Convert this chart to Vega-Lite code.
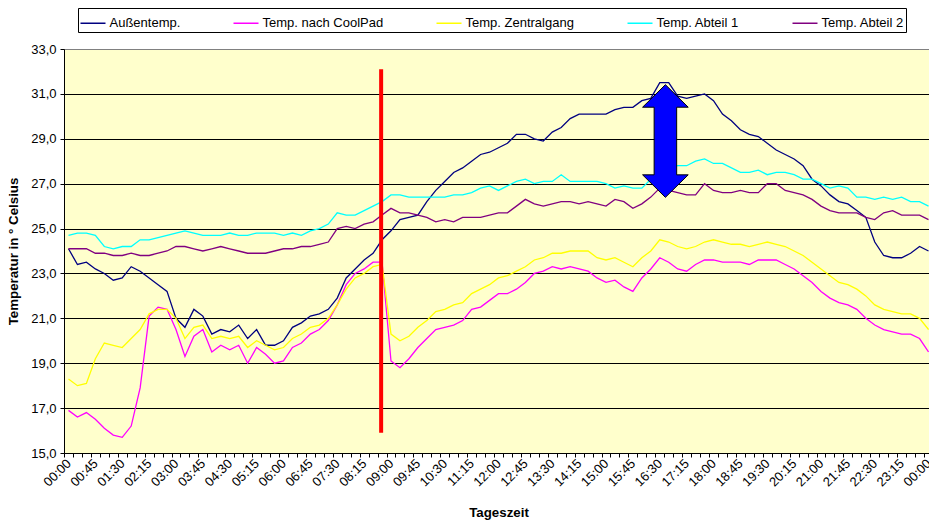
{
  "$schema": "https://vega.github.io/schema/vega-lite/v6.json",
  "autosize": {"type": "none"},
  "padding": {"left": 64, "top": 49, "right": 0, "bottom": 71},
  "width": 869,
  "height": 404,
  "background": "#FFFFFF",
  "config": {
    "font": "Liberation Sans",
    "view": {"fill": "#FFFFCC", "stroke": "#808080", "strokeWidth": 1}
  },
  "layer": [
    {
      "data": {"values": [
        {"t":"00:00","a":24.1,"c":16.9,"z":18.3,"b1":24.7,"b2":24.1},
        {"t":"00:15","a":23.4,"c":16.6,"z":18.0,"b1":24.8,"b2":24.1},
        {"t":"00:30","a":23.5,"c":16.8,"z":18.1,"b1":24.8,"b2":24.1},
        {"t":"00:45","a":23.2,"c":16.5,"z":19.2,"b1":24.7,"b2":23.9},
        {"t":"01:00","a":23.0,"c":16.1,"z":19.9,"b1":24.2,"b2":23.9},
        {"t":"01:15","a":22.7,"c":15.8,"z":19.8,"b1":24.1,"b2":23.8},
        {"t":"01:30","a":22.8,"c":15.7,"z":19.7,"b1":24.2,"b2":23.8},
        {"t":"01:45","a":23.3,"c":16.2,"z":20.1,"b1":24.2,"b2":23.9},
        {"t":"02:00","a":23.1,"c":17.9,"z":20.5,"b1":24.5,"b2":23.8},
        {"t":"02:15","a":22.8,"c":21.1,"z":21.2,"b1":24.5,"b2":23.8},
        {"t":"02:30","a":22.5,"c":21.5,"z":21.4,"b1":24.6,"b2":23.9},
        {"t":"02:45","a":22.2,"c":21.4,"z":21.4,"b1":24.7,"b2":24.0},
        {"t":"03:00","a":21.0,"c":20.5,"z":21.0,"b1":24.8,"b2":24.2},
        {"t":"03:15","a":20.6,"c":19.3,"z":20.1,"b1":24.9,"b2":24.2},
        {"t":"03:30","a":21.4,"c":20.2,"z":20.6,"b1":24.8,"b2":24.1},
        {"t":"03:45","a":21.1,"c":20.5,"z":20.7,"b1":24.7,"b2":24.0},
        {"t":"04:00","a":20.3,"c":19.5,"z":20.1,"b1":24.7,"b2":24.1},
        {"t":"04:15","a":20.5,"c":19.8,"z":20.2,"b1":24.7,"b2":24.2},
        {"t":"04:30","a":20.4,"c":19.6,"z":20.1,"b1":24.8,"b2":24.1},
        {"t":"04:45","a":20.7,"c":19.8,"z":20.2,"b1":24.7,"b2":24.0},
        {"t":"05:00","a":20.1,"c":19.0,"z":19.7,"b1":24.7,"b2":23.9},
        {"t":"05:15","a":20.5,"c":19.7,"z":20.0,"b1":24.8,"b2":23.9},
        {"t":"05:30","a":19.8,"c":19.4,"z":19.8,"b1":24.8,"b2":23.9},
        {"t":"05:45","a":19.8,"c":19.0,"z":19.6,"b1":24.8,"b2":24.0},
        {"t":"06:00","a":20.0,"c":19.1,"z":19.7,"b1":24.7,"b2":24.1},
        {"t":"06:15","a":20.6,"c":19.7,"z":20.1,"b1":24.8,"b2":24.1},
        {"t":"06:30","a":20.8,"c":19.9,"z":20.3,"b1":24.7,"b2":24.2},
        {"t":"06:45","a":21.1,"c":20.3,"z":20.6,"b1":24.9,"b2":24.2},
        {"t":"07:00","a":21.2,"c":20.5,"z":20.7,"b1":25.0,"b2":24.3},
        {"t":"07:15","a":21.4,"c":20.9,"z":21.0,"b1":25.2,"b2":24.4},
        {"t":"07:30","a":21.9,"c":21.6,"z":21.6,"b1":25.7,"b2":25.0},
        {"t":"07:45","a":22.8,"c":22.5,"z":22.3,"b1":25.6,"b2":25.1},
        {"t":"08:00","a":23.2,"c":23.0,"z":22.8,"b1":25.6,"b2":25.0},
        {"t":"08:15","a":23.6,"c":23.2,"z":23.0,"b1":25.8,"b2":25.2},
        {"t":"08:30","a":23.9,"c":23.5,"z":23.3,"b1":26.0,"b2":25.3},
        {"t":"08:45","a":24.5,"c":23.5,"z":23.4,"b1":26.2,"b2":25.6},
        {"t":"09:00","a":24.9,"c":19.1,"z":20.3,"b1":26.5,"b2":25.9},
        {"t":"09:15","a":25.4,"c":18.8,"z":20.0,"b1":26.5,"b2":25.7},
        {"t":"09:30","a":25.5,"c":19.2,"z":20.2,"b1":26.4,"b2":25.7},
        {"t":"09:45","a":25.6,"c":19.7,"z":20.6,"b1":26.4,"b2":25.6},
        {"t":"10:00","a":26.2,"c":20.1,"z":20.9,"b1":26.4,"b2":25.5},
        {"t":"10:15","a":26.7,"c":20.5,"z":21.3,"b1":26.4,"b2":25.3},
        {"t":"10:30","a":27.1,"c":20.6,"z":21.4,"b1":26.4,"b2":25.4},
        {"t":"10:45","a":27.5,"c":20.7,"z":21.6,"b1":26.5,"b2":25.3},
        {"t":"11:00","a":27.7,"c":20.9,"z":21.7,"b1":26.5,"b2":25.5},
        {"t":"11:15","a":28.0,"c":21.4,"z":22.1,"b1":26.6,"b2":25.5},
        {"t":"11:30","a":28.3,"c":21.5,"z":22.3,"b1":26.8,"b2":25.5},
        {"t":"11:45","a":28.4,"c":21.8,"z":22.5,"b1":26.9,"b2":25.6},
        {"t":"12:00","a":28.6,"c":22.1,"z":22.8,"b1":26.7,"b2":25.7},
        {"t":"12:15","a":28.8,"c":22.1,"z":22.9,"b1":26.9,"b2":25.7},
        {"t":"12:30","a":29.2,"c":22.3,"z":23.1,"b1":27.1,"b2":26.0},
        {"t":"12:45","a":29.2,"c":22.6,"z":23.3,"b1":27.2,"b2":26.3},
        {"t":"13:00","a":29.0,"c":23.0,"z":23.6,"b1":27.0,"b2":26.1},
        {"t":"13:15","a":28.9,"c":23.1,"z":23.7,"b1":27.1,"b2":26.0},
        {"t":"13:30","a":29.3,"c":23.3,"z":23.9,"b1":27.1,"b2":26.1},
        {"t":"13:45","a":29.5,"c":23.2,"z":23.9,"b1":27.4,"b2":26.2},
        {"t":"14:00","a":29.9,"c":23.3,"z":24.0,"b1":27.1,"b2":26.2},
        {"t":"14:15","a":30.1,"c":23.2,"z":24.0,"b1":27.1,"b2":26.1},
        {"t":"14:30","a":30.1,"c":23.1,"z":24.0,"b1":27.1,"b2":26.2},
        {"t":"14:45","a":30.1,"c":22.8,"z":23.7,"b1":27.1,"b2":26.1},
        {"t":"15:00","a":30.1,"c":22.6,"z":23.6,"b1":27.0,"b2":26.0},
        {"t":"15:15","a":30.3,"c":22.7,"z":23.7,"b1":26.8,"b2":26.3},
        {"t":"15:30","a":30.4,"c":22.4,"z":23.5,"b1":26.9,"b2":26.2},
        {"t":"15:45","a":30.4,"c":22.2,"z":23.3,"b1":26.8,"b2":25.9},
        {"t":"16:00","a":30.7,"c":22.8,"z":23.7,"b1":26.8,"b2":26.1},
        {"t":"16:15","a":30.8,"c":23.2,"z":24.0,"b1":27.2,"b2":26.4},
        {"t":"16:30","a":31.5,"c":23.7,"z":24.5,"b1":27.6,"b2":26.8},
        {"t":"16:45","a":31.5,"c":23.5,"z":24.4,"b1":27.7,"b2":26.7},
        {"t":"17:00","a":30.9,"c":23.2,"z":24.2,"b1":27.8,"b2":26.6},
        {"t":"17:15","a":30.8,"c":23.1,"z":24.1,"b1":27.8,"b2":26.5},
        {"t":"17:30","a":30.9,"c":23.4,"z":24.2,"b1":28.0,"b2":26.5},
        {"t":"17:45","a":31.0,"c":23.6,"z":24.4,"b1":28.1,"b2":27.0},
        {"t":"18:00","a":30.7,"c":23.6,"z":24.5,"b1":27.9,"b2":26.7},
        {"t":"18:15","a":30.1,"c":23.5,"z":24.4,"b1":27.9,"b2":26.6},
        {"t":"18:30","a":29.8,"c":23.5,"z":24.3,"b1":27.7,"b2":26.6},
        {"t":"18:45","a":29.4,"c":23.5,"z":24.3,"b1":27.5,"b2":26.7},
        {"t":"19:00","a":29.2,"c":23.4,"z":24.2,"b1":27.5,"b2":26.6},
        {"t":"19:15","a":29.1,"c":23.6,"z":24.3,"b1":27.6,"b2":26.6},
        {"t":"19:30","a":28.8,"c":23.6,"z":24.4,"b1":27.4,"b2":27.0},
        {"t":"19:45","a":28.5,"c":23.6,"z":24.3,"b1":27.5,"b2":27.0},
        {"t":"20:00","a":28.3,"c":23.4,"z":24.2,"b1":27.5,"b2":26.7},
        {"t":"20:15","a":28.1,"c":23.2,"z":24.0,"b1":27.4,"b2":26.6},
        {"t":"20:30","a":27.8,"c":22.9,"z":23.8,"b1":27.2,"b2":26.5},
        {"t":"20:45","a":27.2,"c":22.6,"z":23.5,"b1":27.2,"b2":26.3},
        {"t":"21:00","a":26.9,"c":22.2,"z":23.2,"b1":27.0,"b2":26.0},
        {"t":"21:15","a":26.5,"c":21.9,"z":22.9,"b1":26.8,"b2":25.8},
        {"t":"21:30","a":26.2,"c":21.7,"z":22.6,"b1":26.9,"b2":25.7},
        {"t":"21:45","a":26.1,"c":21.6,"z":22.5,"b1":26.8,"b2":25.7},
        {"t":"22:00","a":25.8,"c":21.4,"z":22.3,"b1":26.4,"b2":25.7},
        {"t":"22:15","a":25.5,"c":21.0,"z":22.0,"b1":26.4,"b2":25.5},
        {"t":"22:30","a":24.4,"c":20.7,"z":21.6,"b1":26.3,"b2":25.4},
        {"t":"22:45","a":23.8,"c":20.5,"z":21.4,"b1":26.4,"b2":25.7},
        {"t":"23:00","a":23.7,"c":20.4,"z":21.3,"b1":26.3,"b2":25.8},
        {"t":"23:15","a":23.7,"c":20.3,"z":21.2,"b1":26.4,"b2":25.6},
        {"t":"23:30","a":23.9,"c":20.3,"z":21.2,"b1":26.2,"b2":25.6},
        {"t":"23:45","a":24.2,"c":20.1,"z":21.0,"b1":26.2,"b2":25.6},
        {"t":"24:00","a":24.0,"c":19.5,"z":20.5,"b1":26.0,"b2":25.4}
      ]},
      "transform": [{"fold": ["a", "c", "z", "b1", "b2"], "as": ["k", "v"]}],
      "mark": {"type": "line", "strokeWidth": 1.3},
      "encoding": {
        "x": {
          "field": "t", "type": "ordinal", "bandPosition": 0.5,
          "scale": {"type": "band", "paddingInner": 0, "paddingOuter": 0},
          "axis": {
            "title": "Tageszeit", "titleFontSize": 13.3, "titleFontWeight": "bold", "titleColor": "#000000", "titlePadding": 17,
            "labelExpr": "isString(datum.value) && (toNumber(slice(datum.value,0,2))*60+toNumber(slice(datum.value,3,5))) % 45 == 0 ? (datum.value == '24:00' ? '00:00' : datum.value) : ''",
            "labelAngle": -45, "labelAlign": "right", "labelBaseline": "middle", "labelOverlap": false,
            "labelFontSize": 13, "labelColor": "#000000", "labelPadding": 4,
            "tickBand": "extent", "tickSize": 4, "tickColor": "#000000", "domainColor": "#000000", "grid": false
          }
        },
        "y": {
          "field": "v", "type": "quantitative",
          "scale": {"domain": [15, 33], "nice": false, "zero": false},
          "axis": {
            "title": "Temperatur in ° Celsius", "titleFontSize": 13.3, "titleFontWeight": "bold", "titleColor": "#000000", "titlePadding": 10,
            "values": [15, 17, 19, 21, 23, 25, 27, 29, 31, 33],
            "labelExpr": "replace(format(datum.value, '.1f'), '.', ',')",
            "labelFontSize": 13, "labelColor": "#000000", "labelPadding": 4,
            "tickSize": 4, "tickColor": "#000000", "domainColor": "#000000",
            "grid": true, "gridColor": {"condition": {"test": "datum.value === 33", "value": "#808080"}, "value": "#000000"}, "gridWidth": 1
          }
        },
        "color": {
          "field": "k", "type": "nominal",
          "scale": {"domain": ["a", "c", "z", "b1", "b2"], "range": ["#000080", "#FF00FF", "#FFFF00", "#00FFFF", "#800080"]},
          "legend": {
            "orient": "none", "legendX": 14, "legendY": -41, "direction": "horizontal", "title": null,
            "labelExpr": "datum.value == 'a' ? 'Außentemp.' : datum.value == 'c' ? 'Temp. nach CoolPad' : datum.value == 'z' ? 'Temp. Zentralgang' : datum.value == 'b1' ? 'Temp. Abteil 1' : 'Temp. Abteil 2'",
            "labelFontSize": 13, "labelColor": "#000000", "labelOffset": 3,
            "symbolType": "stroke", "symbolSize": 625, "symbolStrokeWidth": 1.5,
            "columnPadding": 50, "padding": 1.5, "strokeColor": "#000000", "fillColor": "#FFFFFF"
          }
        }
      }
    },
    {
      "data": {"values": [{"t": "08:45", "top": 32.1, "bottom": 15.9}]},
      "mark": {"type": "rule", "color": "#FF0000", "strokeWidth": 4},
      "encoding": {
        "x": {"field": "t", "type": "ordinal", "bandPosition": 0.4},
        "y": {"field": "top", "type": "quantitative"},
        "y2": {"field": "bottom"}
      }
    },
    {
      "data": {"values": [{"t": "16:45", "mid": 28.9}]},
      "mark": {
        "type": "point",
        "shape": "M0,-1L0.405,-0.6L0.2,-0.6L0.2,0.6L0.405,0.6L0,1L-0.405,0.6L-0.2,0.6L-0.2,-0.6L-0.405,-0.6Z",
        "size": 12701, "filled": true, "fill": "#0000FF", "stroke": "#000000", "strokeWidth": 1, "opacity": 1
      },
      "encoding": {
        "x": {"field": "t", "type": "ordinal", "bandPosition": 0.13},
        "y": {"field": "mid", "type": "quantitative"}
      }
    }
  ]
}
